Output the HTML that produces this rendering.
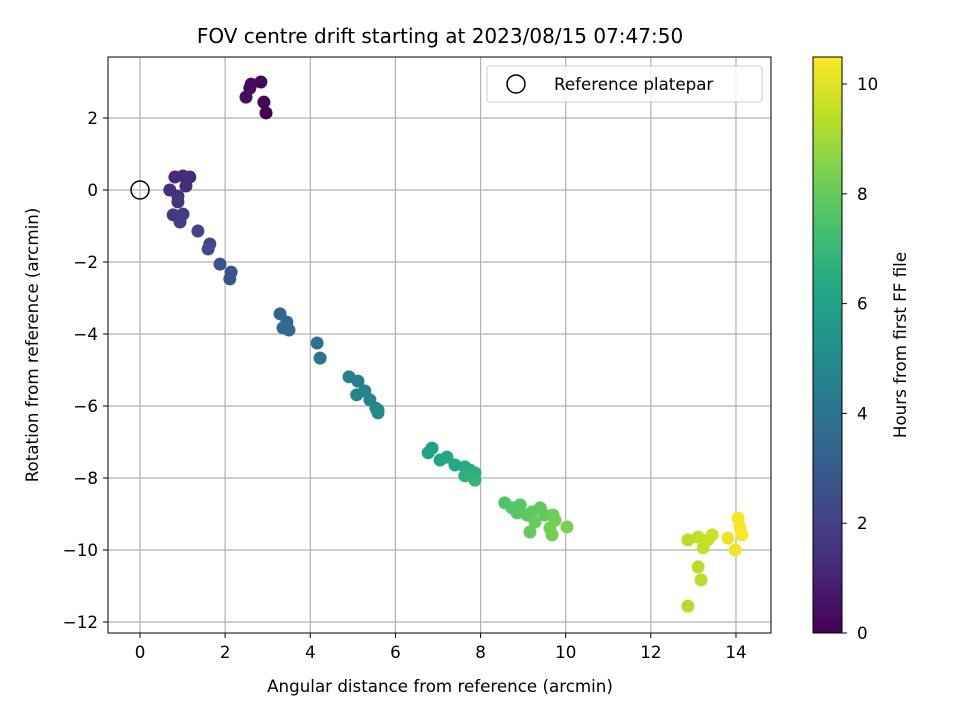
<!DOCTYPE html>
<html><head><meta charset="utf-8">
<style>
body{margin:0;background:#fff;}
svg text{font-family:"DejaVu Sans","Liberation Sans",sans-serif;fill:#000;}
</style></head>
<body>
<svg id="chart" width="960" height="720" xmlns="http://www.w3.org/2000/svg">
<defs>
<linearGradient id="vir" x1="0" y1="1" x2="0" y2="0">
<stop offset="0" stop-color="#440154"/><stop offset="0.1" stop-color="#482475"/><stop offset="0.2" stop-color="#414487"/><stop offset="0.3" stop-color="#355f8d"/><stop offset="0.4" stop-color="#2a788e"/><stop offset="0.5" stop-color="#21918c"/><stop offset="0.6" stop-color="#22a884"/><stop offset="0.7" stop-color="#44bf70"/><stop offset="0.8" stop-color="#7ad151"/><stop offset="0.9" stop-color="#bddf26"/><stop offset="1" stop-color="#fde725"/>
</linearGradient>
</defs>
<text x="440" y="43" font-size="20" text-anchor="middle">FOV centre drift starting at 2023/08/15 07:47:50</text>
<g id="grid"></g>
<g id="points"></g>
<rect x="108" y="57" width="663" height="576" fill="none" stroke="#000" stroke-width="1"/>
<g id="ticks"></g>
<text x="440" y="692" font-size="16.7" text-anchor="middle">Angular distance from reference (arcmin)</text>
<text transform="translate(38,345) rotate(-90)" font-size="16.7" text-anchor="middle">Rotation from reference (arcmin)</text>
<g>
<rect x="487" y="66" width="275" height="36" rx="3" fill="#fff" fill-opacity="0.8" stroke="#ccc"/>
<circle cx="516" cy="84" r="9" fill="none" stroke="#000" stroke-width="1.5"/>
<text x="554" y="90" font-size="16.7">Reference platepar</text>
</g>
<rect x="813" y="57" width="29" height="576" fill="url(#vir)" stroke="#000" stroke-width="1"/>
<g id="cbticks"></g>
<text transform="translate(906,345) rotate(-90)" font-size="16.7" text-anchor="middle">Hours from first FF file</text>
</svg>
<script>
const xs=[2.96,2.91,2.84,2.61,2.58,2.49,
0.82,1.01,1.17,1.08,0.70,0.89,0.89,0.78,1.01,0.94,
1.36,1.64,1.60,1.88,2.14,2.11,
3.29,3.45,3.36,3.50,4.16,4.23,
4.91,5.12,5.09,5.28,5.40,5.54,5.59,5.59,
6.86,6.77,7.05,7.21,7.40,7.63,7.75,7.87,7.63,7.87,
8.57,8.74,8.93,8.86,9.09,9.21,9.40,9.51,9.16,9.28,9.70,9.75,9.68,9.63,10.03,
12.87,13.18,13.11,12.87,13.11,13.23,13.34,13.44,13.81,13.98,14.05,14.09,14.14];
const ys=[2.14,2.44,3.0,2.94,2.83,2.58,
0.36,0.39,0.36,0.11,0.0,-0.17,-0.33,-0.69,-0.67,-0.89,
-1.14,-1.5,-1.64,-2.06,-2.28,-2.47,
-3.44,-3.67,-3.83,-3.89,-4.25,-4.67,
-5.19,-5.31,-5.69,-5.58,-5.83,-6.06,-6.11,-6.19,
-7.17,-7.3,-7.5,-7.42,-7.64,-7.69,-7.78,-7.86,-7.94,-8.06,
-8.69,-8.83,-8.75,-8.97,-9.03,-8.94,-8.83,-9.03,-9.5,-9.22,-9.03,-9.17,-9.58,-9.39,-9.36,
-11.56,-10.83,-10.47,-9.72,-9.64,-9.94,-9.72,-9.58,-9.67,-10.0,-9.11,-9.36,-9.58];
const hours=[0.0,0.1,0.2,0.3,0.3,0.4,
1.2,1.25,1.3,1.35,1.4,1.5,1.6,1.7,1.8,1.9,
2.2,2.35,2.4,2.6,2.75,2.8,
3.5,3.55,3.6,3.65,3.9,4.0,
4.4,4.5,4.6,4.65,4.75,4.85,4.9,5.0,
6.0,6.05,6.15,6.2,6.3,6.4,6.5,6.6,6.7,6.8,
7.6,7.65,7.7,7.75,7.8,7.85,7.9,7.95,8.0,8.05,8.1,8.2,8.25,8.3,8.4,
9.3,9.35,9.4,9.4,9.5,9.55,9.6,9.7,10.2,10.3,10.35,10.4,10.45];
const xTicks=[0,2,4,6,8,10,12,14];
const yTicks=[2,0,-2,-4,-6,-8,-10,-12];
const cTicks=[0,2,4,6,8,10];
const X=v=>140+v*42.57, Y=v=>190-v*36, C=v=>633-v*54.9;
const NS="http://www.w3.org/2000/svg";
const vir=["#440154","#482475","#414487","#355f8d","#2a788e","#21918c","#22a884","#44bf70","#7ad151","#bddf26","#fde725"];
function hex(h){return [1,3,5].map(i=>parseInt(h.substr(i,2),16));}
function col(h){let t=Math.max(0,Math.min(1,h/10.5))*10;let i=Math.min(9,Math.floor(t)),f=t-i;let a=hex(vir[i]),b=hex(vir[i+1]);return "rgb("+a.map((v,k)=>Math.round(v+(b[k]-v)*f)).join(",")+")";}
function mk(tag,at,par){const e=document.createElementNS(NS,tag);for(const k in at)e.setAttribute(k,at[k]);par.appendChild(e);return e;}
const grid=document.getElementById("grid"),tk=document.getElementById("ticks"),pts=document.getElementById("points"),cb=document.getElementById("cbticks");
xTicks.forEach(v=>{
 const l=mk("line",{x1:X(v),x2:X(v),y1:57,y2:633,stroke:"#b0b0b0","stroke-width":1.2},grid);
 
 
 mk("line",{x1:X(v),x2:X(v),y1:633,y2:638,stroke:"#000"},tk);
 const t=mk("text",{x:X(v),y:658,"font-size":16.7,"text-anchor":"middle"},tk);t.textContent=v<0?"−"+(-v):v;
 
 
});
yTicks.forEach(v=>{
 const l=mk("line",{x1:108,x2:771,y1:Y(v),y2:Y(v),stroke:"#b0b0b0","stroke-width":1.2},grid);
 
 
 mk("line",{x1:103,x2:108,y1:Y(v),y2:Y(v),stroke:"#000"},tk);
 const t=mk("text",{x:98,y:Y(v)+6,"font-size":16.7,"text-anchor":"end"},tk);t.textContent=v<0?"−"+(-v):v;
 
 
});
xs.forEach((x,i)=>{
 const c=mk("circle",{cx:X(x),cy:Y(ys[i]),r:6.5,fill:col(hours[i])},pts);
 
 
});
const ref=mk("circle",{cx:X(0),cy:Y(0),r:9,fill:"none",stroke:"#000","stroke-width":1.5},pts);


cTicks.forEach(v=>{
 mk("line",{x1:842,x2:847,y1:C(v),y2:C(v),stroke:"#000"},cb);
 const t=mk("text",{x:857,y:C(v)+6,"font-size":16.7},cb);t.textContent=v;
 
 
});
</script>
</body></html>
